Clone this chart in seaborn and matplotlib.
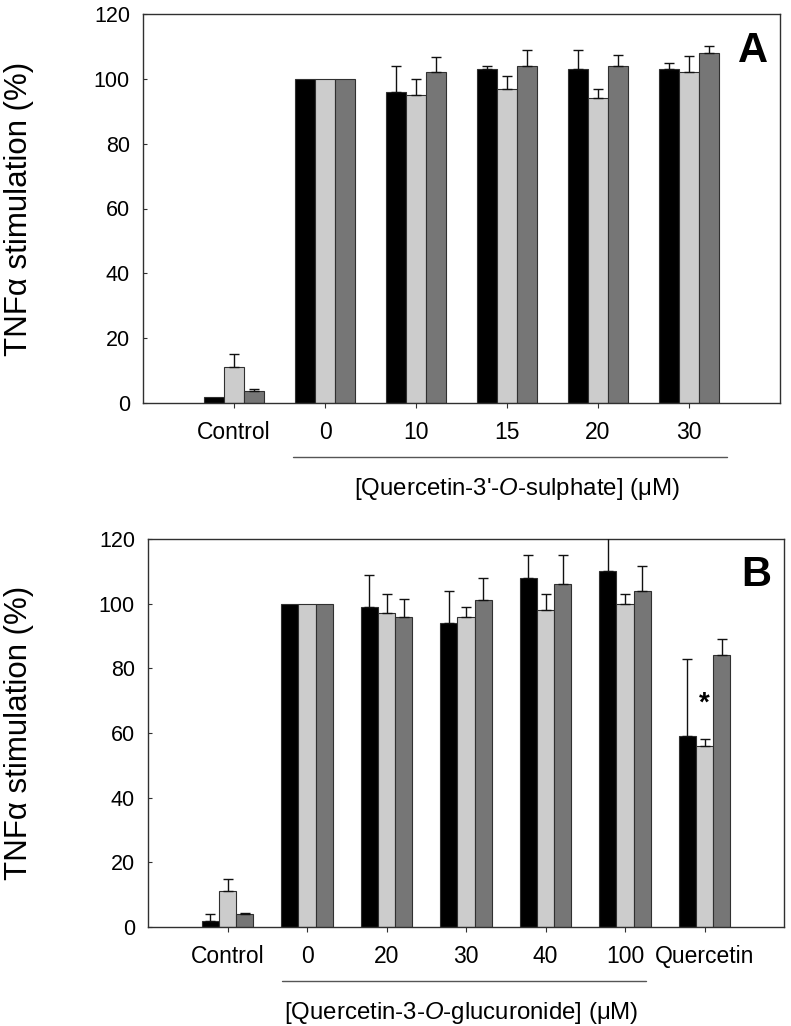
import numpy as np
import pandas as pd
import matplotlib
matplotlib.use("Agg")
import matplotlib.pyplot as plt
import matplotlib.transforms as mtransforms
import seaborn as sns

# ---------------- data ----------------
series = ["s1", "s2", "s3"]
colors = ["#000000", "#cccccc", "#767676"]

cats_a = ["Control", "0", "10", "15", "20", "30"]
a_s1 = [2, 100, 96, 103, 103, 103]
a_s2 = [11, 100, 95, 97, 94, 102]
a_s3 = [3.7, 100, 102, 104, 104, 108]
a_e1 = [np.nan, np.nan, 8, 1, 6, 2]
a_e2 = [4, np.nan, 5, 4, 3, 5]
a_e3 = [0.6, np.nan, 4.6, 4.9, 3.5, 2]

cats_b = ["Control", "0", "20", "30", "40", "100", "Quercetin"]
b_s1 = [2, 100, 99, 94, 108, 110, 59]
b_s2 = [11, 100, 97, 96, 98, 100, 56]
b_s3 = [4, 100, 96, 101, 106, 104, 84]
b_e1 = [2, np.nan, 10, 10, 7, 12, 24]
b_e2 = [4, np.nan, 6, 3, 5, 3, 2]
b_e3 = [0.3, np.nan, 5.5, 7, 9, 7.7, 5]

yticks = [0, 20, 40, 60, 80, 100, 120]
ylabel = "TNFα stimulation (%)"
xlabel_a = r"[Quercetin-3'-$\mathit{O}$-sulphate] (μM)"
xlabel_b = r"[Quercetin-3-$\mathit{O}$-glucuronide] (μM)"

# ---------------- style ----------------
sns.set_theme(style="white")
plt.rcParams["font.family"] = ["Liberation Sans", "DejaVu Sans"]
plt.rcParams["mathtext.fontset"] = "custom"
plt.rcParams["mathtext.rm"] = "Liberation Sans"
plt.rcParams["mathtext.it"] = "Liberation Sans:italic"
plt.rcParams["mathtext.bf"] = "Liberation Sans:bold"

fig = plt.figure(figsize=(7.91, 10.26), dpi=100)
W, H = 791, 1026


def make_panel(rect_px, cats, vals, errs, letter, xlabel, line_rng, label_x):
    l, t, r, b = rect_px
    ax = fig.add_axes([l / W, 1 - b / H, (r - l) / W, (b - t) / H])
    rows = []
    for s, v in zip(series, vals):
        for c, val in zip(cats, v):
            rows.append({"group": c, "series": s, "value": val})
    df = pd.DataFrame(rows)
    sns.barplot(data=df, x="group", y="value", hue="series", order=cats,
                hue_order=series, palette=colors, width=0.65, gap=0,
                errorbar=None, edgecolor="#303030", linewidth=0.8,
                saturation=1, legend=False, ax=ax)
    for cont, e in zip(ax.containers, errs):
        xs, ys, es = [], [], []
        for bar, ev in zip(cont, e):
            if not np.isnan(ev):
                xs.append(bar.get_x() + bar.get_width() / 2)
                ys.append(bar.get_height())
                es.append(ev)
        ax.errorbar(xs, ys, yerr=[np.zeros(len(es)), es], fmt="none",
                    ecolor="#111111", elinewidth=1, capsize=3.8,
                    capthick=1, zorder=5)
    ax.set_xlim(-1, len(cats))
    ax.set_ylim(0, 120)
    ax.set_yticks(yticks)
    ax.set_xlabel("")
    ax.set_ylabel(ylabel, fontsize=22.5, color="black")
    ax.yaxis.set_label_coords(-(l - 34) / (r - l), 0.5)
    for sp in ax.spines.values():
        sp.set_visible(True)
        sp.set_color("#303030")
        sp.set_linewidth(1)
    ax.tick_params(axis="y", direction="in", length=3, width=0.8,
                   colors="#303030", labelcolor="black", labelsize=15.5,
                   pad=9.4, left=True)
    ax.tick_params(axis="x", direction="out", length=3.6, width=0.8,
                   colors="#303030", labelcolor="black", labelsize=16.5,
                   pad=9.5, bottom=True)
    ax.text(0.957, 0.906, letter, transform=ax.transAxes, fontsize=30,
            fontweight="bold", ha="center", va="center", color="black")
    trans = mtransforms.blended_transform_factory(ax.transData, ax.transAxes)
    ax.plot(line_rng, [-0.138, -0.138], transform=trans, color="#555555",
            lw=1, clip_on=False)
    ax.text(label_x, -0.222, xlabel, transform=trans, fontsize=17.3,
            ha="center", va="center", color="black")
    return ax


ax_a = make_panel((143, 14, 780, 403), cats_a, [a_s1, a_s2, a_s3],
                  [a_e1, a_e2, a_e3], "A", xlabel_a, [0.65, 5.42], 3.11)
ax_b = make_panel((148, 539, 784, 927), cats_b, [b_s1, b_s2, b_s3],
                  [b_e1, b_e2, b_e3], "B", xlabel_b, [0.68, 5.26], 2.94)
ax_b.text(6, 69, "*", fontsize=20, fontweight="bold", ha="center",
          va="center", color="black")

fig.savefig("out.png", dpi=100)
